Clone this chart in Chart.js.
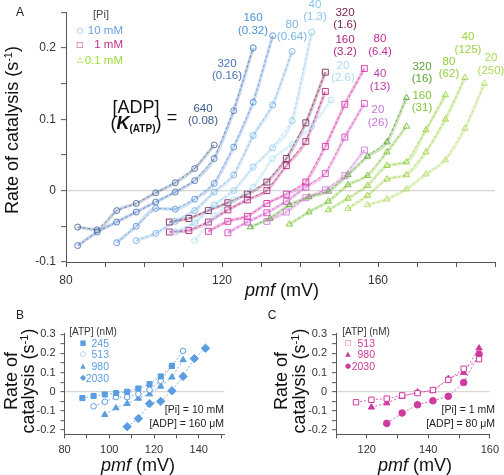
<!DOCTYPE html>
<html><head><meta charset="utf-8">
<script src="https://cdn.jsdelivr.net/npm/chart.js@4.4.1/dist/chart.umd.min.js"></script>
<style>
html,body{margin:0;padding:0;background:#fff;}
body{width:504px;height:475px;position:relative;overflow:hidden;font-family:"Liberation Sans",Arial,sans-serif;}
canvas{position:absolute;}
.t{position:absolute;white-space:nowrap;line-height:1;}
</style></head><body>
<canvas id="cA" width="504" height="300" style="left:0;top:0;width:504px;height:300px"></canvas>
<canvas id="cB" width="250" height="175" style="left:0;top:300px;width:250px;height:175px"></canvas>
<canvas id="cC" width="254" height="175" style="left:250px;top:300px;width:254px;height:175px"></canvas>
<script>
// ---------- Panel A data: [Pi] = 10 mM (circles) ----------
const pmf10_640 = [83,88,93,98,103,108,113,118];
const rate10_640 = [-0.051,-0.055,-0.028,-0.018,-0.003,0.011,0.031,0.064];
const pmf10_320 = [83,88,93,98,103,108,113,118,123,128];
const rate10_320 = [-0.077,-0.058,-0.044,-0.030,-0.016,-0.002,0.014,0.045,0.112,0.200];
const pmf10_160 = [93,98,103,108,113,118,123,128,133];
const rate10_160 = [-0.073,-0.050,-0.025,-0.026,-0.012,0.010,0.061,0.124,0.217];
const pmf10_80 = [98,103,108,113,118,123,128,133,138];
const rate10_80 = [-0.070,-0.060,-0.043,-0.028,-0.002,0.022,0.077,0.120,0.195];
const pmf10_40 = [108,113,118,123,128,133,138,143];
const rate10_40 = [-0.058,-0.045,-0.020,0.000,0.033,0.060,0.098,0.222];
const pmf10_20 = [113,118,123,128,133,138,143,148];
const rate10_20 = [-0.070,-0.036,-0.013,0.005,0.045,0.065,0.090,0.127];
// ---------- [Pi] = 1 mM (squares) ----------
const pmf1_320 = [106.5,111.5,116.5,121.5,126.5,131.5,136.5,141.5,146.5];
const rate1_320 = [-0.044,-0.039,-0.028,-0.017,-0.005,0.012,0.045,0.095,0.166];
const pmf1_160 = [106.5,111.5,116.5,121.5,126.5,131.5,136.5,141.5,146.5];
const rate1_160 = [-0.058,-0.056,-0.044,-0.027,-0.013,0.000,0.035,0.069,0.139];
const pmf1_80 = [116.5,121.5,126.5,131.5,136.5,141.5,146.5,151.5,156.5];
const rate1_80 = [-0.057,-0.043,-0.036,-0.018,-0.005,0.012,0.062,0.121,0.171];
const pmf1_40 = [121.5,126.5,131.5,136.5,141.5,146.5,151.5,156.5];
const rate1_40 = [-0.059,-0.044,-0.031,-0.015,0.005,0.024,0.075,0.122];
const pmf1_20 = [131.5,136.5,141.5,146.5,151.5,156.5];
const rate1_20 = [-0.043,-0.030,-0.010,0.001,0.021,0.057];
// ---------- [Pi] = 0.1 mM (triangles) ----------
const pmf01_320 = [127.3,132.3,137.3,142.3,147.3,152.3,157.3,162.3,167.3];
const rate01_320 = [-0.051,-0.039,-0.020,-0.009,-0.001,0.022,0.048,0.068,0.130];
const pmf01_160 = [137.3,142.3,147.3,152.3,157.3,162.3,167.3];
const rate01_160 = [-0.047,-0.030,-0.015,0.008,0.021,0.054,0.090];
const pmf01_80 = [147.3,152.3,157.3,162.3,167.3,172.3,177.3];
const rate01_80 = [-0.027,-0.011,0.007,0.035,0.040,0.085,0.134];
const pmf01_40 = [152.3,157.3,162.3,167.3,172.3,177.3,182.3];
const rate01_40 = [-0.025,-0.007,0.016,0.022,0.054,0.100,0.158];
const pmf01_20 = [157.3,162.3,167.3,172.3,177.3,182.3,187.3];
const rate01_20 = [-0.020,-0.012,0.002,0.023,0.043,0.087,0.150];

// ---------- Panel B data ([Pi]=10 mM, [ADP]=160 uM) ----------
const pmfB_245 = [88,93,98,103,108,113,118,123,128];
const rateB_245 = [-0.033,-0.022,-0.014,-0.007,0.000,0.017,0.040,0.080,0.135];
const pmfB_513 = [93,98,103,108,113,118,123,128,133];
const rateB_513 = [-0.076,-0.052,-0.028,-0.028,-0.012,0.010,0.057,0.135,0.213];
const pmfB_980 = [98,103,108,113,118,123,128,133];
const rateB_980 = [-0.120,-0.085,-0.062,-0.035,-0.012,0.028,0.076,0.166];
const pmfB_2030 = [108,113,118,123,128,133,138,143];
const rateB_2030 = [-0.182,-0.140,-0.062,-0.050,0.005,0.080,0.173,0.227];

// ---------- Panel C data ([Pi]=1 mM, [ADP]=80 uM) ----------
const pmfC_513 = [116.5,121.5,126.5,131.5,136.5,141.5,146.5,151.5,156.5];
const rateC_513 = [-0.055,-0.042,-0.036,-0.019,-0.007,0.009,0.062,0.120,0.170];
const pmfC_980 = [121.5,126.5,131.5,136.5,141.5,146.5,151.5,156.5];
const rateC_980 = [-0.081,-0.059,-0.024,-0.002,0.005,0.068,0.100,0.227];
const pmfC_2030 = [126.5,131.5,136.5,141.5,146.5,151.5,156.5];
const rateC_2030 = [-0.165,-0.111,-0.068,-0.047,-0.024,0.048,0.196];

// ---------- tick values / labels ----------
const xTicksA = [80,90,100,110,120,130,140,150,160,170,180,190];
const xLabelsA = [80,120,160];
const yTicksA = [-0.1,-0.05,0,0.05,0.1,0.15,0.2,0.25];
const yLabelsA = [-0.1,0,0.1,0.2];
const xTicksB = [80,90,100,110,120,130,140,150];
const xLabelsB = [80,100,120,140];
const xTicksC = [110,120,130,140,150,160];
const xLabelsC = [120,140,160];
const yTicksBC = [-0.2,-0.15,-0.1,-0.05,0,0.05,0.1,0.15,0.2,0.25,0.3];
const yLabelsBC = [-0.2,-0.1,0,0.1,0.2,0.3];

// ---------- styling (not data) ----------
const FONT = '"Liberation Sans", Arial, sans-serif';
Chart.defaults.font.family = FONT;
const AX = '#555';

function pts(xs, ys){ return xs.map((x,i)=>({x:x, y:ys[i]})); }
function hexA(hex,a){const n=parseInt(hex.slice(1),16);return `rgba(${n>>16&255},${n>>8&255},${n&255},${a})`;}

const seriesA = [
  [pmf10_640, rate10_640, '#506c9c', 'circle', 3],
  [pmf10_320, rate10_320, '#4a78bc', 'circle', 3],
  [pmf10_160, rate10_160, '#5b93d6', 'circle', 3],
  [pmf10_80,  rate10_80,  '#7cb4e6', 'circle', 3],
  [pmf10_40,  rate10_40,  '#95cdef', 'circle', 3],
  [pmf10_20,  rate10_20,  '#b2e0f3', 'circle', 3],
  [pmf1_320, rate1_320, '#7d2a5c', 'rect', 4.2],
  [pmf1_160, rate1_160, '#b0267e', 'rect', 4.2],
  [pmf1_80,  rate1_80,  '#d530a6', 'rect', 4.2],
  [pmf1_40,  rate1_40,  '#d24ec2', 'rect', 4.2],
  [pmf1_20,  rate1_20,  '#d37ad8', 'rect', 4.2],
  [pmf01_320, rate01_320, '#5aa632', 'triangle', 3.6],
  [pmf01_160, rate01_160, '#7cc236', 'triangle', 3.6],
  [pmf01_80,  rate01_80,  '#92cf3a', 'triangle', 3.6],
  [pmf01_40,  rate01_40,  '#a2d44a', 'triangle', 3.6],
  [pmf01_20,  rate01_20,  '#b5de6a', 'triangle', 3.6]
];

const dsA = [];
seriesA.forEach(s=>{
  dsA.push({data:pts(s[0],s[1]), showLine:true, borderColor:hexA(s[2],0.3), borderWidth:3.2,
    pointRadius:0, tension:0.45, cubicInterpolationMode:'monotone', order:2});
  dsA.push({data:pts(s[0],s[1]), showLine:true, borderColor:s[2], borderWidth:0.75, borderDash:[3,2],
    pointStyle:s[3], pointRadius:s[4], pointBorderColor:s[2], pointBackgroundColor:'rgba(255,255,255,0)',
    pointBorderWidth:0.9, order:1});
});

function fmtY(v){ if (Math.abs(v)<1e-9) return '0'; return v.toFixed(1); }
function inList(v, list){ return list.some(l=>Math.abs(l-v)<1e-9); }

function makeScales(o){
  return {
    x:{type:'linear', min:o.xmin, max:o.xmax,
      afterBuildTicks:s=>{ s.ticks = o.xt.map(v=>({value:v})); },
      afterFit:s=>{ s.height = o.xh; },
      ticks:{autoSkip:false, maxRotation:0, padding:o.xpad, color:'#333', font:{size:o.fs, family:FONT},
        callback:v=> inList(v,o.xl) ? String(v) : ''},
      grid:{drawOnChartArea:false, tickLength:o.tl, tickColor:AX, tickWidth:1},
      border:{display:true, color:AX, width:1}},
    y:{type:'linear', min:o.ymin, max:o.ymax,
      afterBuildTicks:s=>{ s.ticks = o.yt.map(v=>({value:v})); },
      afterFit:s=>{ s.width = o.yw; },
      ticks:{autoSkip:false, padding:o.ypad, color:'#333', font:{size:o.fs, family:FONT},
        callback:v=> inList(v,o.yl) ? fmtY(v) : ''},
      grid:{drawOnChartArea:true, color:c=> (c.tick && Math.abs(c.tick.value)<1e-9) ? '#d6d6d6' : 'rgba(0,0,0,0)',
        lineWidth:1.3, tickLength:o.tl, tickColor:AX, tickWidth:1},
      border:{display:true, color:AX, width:1}}
  };
}

const baseOpts = {responsive:false, animation:false, devicePixelRatio:1,
  plugins:{legend:{display:false}, tooltip:{enabled:false}}};

new Chart(document.getElementById('cA'), {
  type:'scatter', data:{datasets:dsA},
  options:Object.assign({}, baseOpts, {
    layout:{padding:{top:5.5, right:9, left:0, bottom:0}},
    scales:makeScales({xmin:80,xmax:190,xt:xTicksA,xl:xLabelsA,ymin:-0.1,ymax:0.25,yt:yTicksA,yl:yLabelsA,
      xh:38, yw:66, fs:12, tl:5, xpad:6, ypad:5})
  })
});

const colB = '#5a9de0';
const dsB = [
  [pmfB_245, rateB_245, 'rect', 3.6, true],
  [pmfB_513, rateB_513, 'circle', 2.8, false],
  [pmfB_980, rateB_980, 'triangle', 3.6, true],
  [pmfB_2030, rateB_2030, 'rectRot', 4.2, true]
].map(s=>({data:pts(s[0],s[1]), showLine:true, borderColor:colB, borderWidth:0.8, borderDash:[2,2],
  pointStyle:s[2], pointRadius:s[3], pointBorderColor:colB, pointBorderWidth:1,
  pointBackgroundColor: s[4] ? colB : '#fff'}));

new Chart(document.getElementById('cB'), {
  type:'scatter', data:{datasets:dsB},
  options:Object.assign({}, baseOpts, {
    layout:{padding:{top:33.3, right:25.5, left:0, bottom:0}},
    scales:makeScales({xmin:80,xmax:151.5,xt:xTicksB,xl:xLabelsB,ymin:-0.222,ymax:0.305,yt:yTicksBC,yl:yLabelsBC,
      xh:40.7, yw:64.5, fs:11, tl:4, xpad:5, ypad:5})
  })
});

const colC = '#cf3a9f';
const dsC = [
  [pmfC_513, rateC_513, 'rect', 3.8, false],
  [pmfC_980, rateC_980, 'triangle', 3.6, true],
  [pmfC_2030, rateC_2030, 'circle', 3.3, true]
].map(s=>({data:pts(s[0],s[1]), showLine:true, borderColor:colC, borderWidth:0.8, borderDash:[2,2],
  pointStyle:s[2], pointRadius:s[3], pointBorderColor:colC, pointBorderWidth:1,
  pointBackgroundColor: s[4] ? colC : '#fff'}));

new Chart(document.getElementById('cC'), {
  type:'scatter', data:{datasets:dsC},
  options:Object.assign({}, baseOpts, {
    layout:{padding:{top:33.3, right:9.5, left:0, bottom:0}},
    scales:makeScales({xmin:110,xmax:160,xt:xTicksC,xl:xLabelsC,ymin:-0.222,ymax:0.305,yt:yTicksBC,yl:yLabelsBC,
      xh:40.7, yw:86, fs:11, tl:4, xpad:5, ypad:5})
  })
});

// ---------- text overlays ----------
function txt(html, x, y, o){
  o = o || {};
  const d = document.createElement('div');
  d.className = 't';
  d.innerHTML = html;
  d.style.left = x + 'px'; d.style.top = y + 'px';
  d.style.fontSize = (o.size||12) + 'px';
  d.style.color = o.color || '#222';
  if (o.family) d.style.fontFamily = o.family;
  const al = o.align || 'c';
  let tr = al==='c' ? 'translate(-50%,-50%)' : al==='r' ? 'translate(-100%,-50%)' : 'translate(0,-50%)';
  if (o.rot) tr += ' rotate(-90deg)';
  d.style.transform = tr;
  document.body.appendChild(d);
}
const SYM = '"DejaVu Sans", sans-serif';

// Panel A
txt('A', 20, 12, {size:12});
txt('[Pi]', 101, 14, {size:11, color:'#444'});
txt('○', 80, 31, {size:8, color:'#6aa0e0', family:SYM});
txt('10 mM', 123, 31, {size:11.5, color:'#6aa0e0', align:'r'});
txt('□', 80, 45, {size:8, color:'#c0308a', family:SYM});
txt('1 mM', 123, 45, {size:11.5, color:'#c0308a', align:'r'});
txt('△', 80, 60, {size:8, color:'#99dd33', family:SYM});
txt('0.1 mM', 123, 61, {size:11.5, color:'#99dd33', align:'r'});
txt('[ADP]', 136, 107, {size:18, color:'#111'});
txt('(<b><i>K</i></b><sub style="font-size:10px;font-weight:bold;vertical-align:-3px">(ATP)</sub>)', 136, 124, {size:18, color:'#111'});
txt('=', 172, 117, {size:18, color:'#111'});

const seriesLabels = [
  ['640','(0.08)',203,109,121,'#3d5a8c'],
  ['320','(0.16)',227,64,76,'#4a72b4'],
  ['160','(0.32)',253,18,31,'#4a90d9'],
  ['80','(0.64)',292,25,37,'#7ab4e4'],
  ['40','(1.3)',315,5,17,'#88c8ee'],
  ['20','(2.6)',343,66,78,'#a8ddf2'],
  ['320','(1.6)',345,13,25,'#7a2858'],
  ['160','(3.2)',345,40,52,'#b02080'],
  ['80','(6.4)',380,39,52,'#c82896'],
  ['40','(13)',380,74,87,'#c040b0'],
  ['20','(26)',378,110,123,'#c878d8'],
  ['320','(16)',422,67,79,'#5aa632'],
  ['160','(31)',422,96,108,'#80c43a'],
  ['80','(62)',449,62,74,'#8fcf3a'],
  ['40','(125)',468,37,50,'#9ad440'],
  ['20','(250)',491,58,71,'#a8da58']
];
seriesLabels.forEach(l=>{
  txt(l[0], l[2], l[3], {size:11.5, color:l[5]});
  txt(l[1], l[2], l[4], {size:11.5, color:l[5]});
});
txt('Rate of catalysis (s<sup style="font-size:11px;vertical-align:6px">-1</sup>)', 12, 130, {size:18, color:'#111', rot:true});
txt('<i>pmf</i> (mV)', 282, 290, {size:18, color:'#111'});

// Panel B
txt('B', 20, 315, {size:12});
txt('[ATP] (nM)', 93, 332, {size:10, color:'#333'});
txt('■', 83, 343, {size:7, color:colB, family:SYM});
txt('245', 109, 343, {size:10.5, color:colB, align:'r'});
txt('○', 83, 354, {size:7, color:colB, family:SYM});
txt('513', 109, 354, {size:10.5, color:colB, align:'r'});
txt('▲', 83, 366, {size:7, color:colB, family:SYM});
txt('980', 109, 366, {size:10.5, color:colB, align:'r'});
txt('◆', 83, 378, {size:8, color:colB, family:SYM});
txt('2030', 109, 378, {size:10.5, color:colB, align:'r'});
txt('[Pi] = 10 mM', 224, 409, {size:10.5, color:'#222', align:'r'});
txt('[ADP] = 160 μM', 224, 423, {size:10.5, color:'#222', align:'r'});
txt('Rate of', 11, 381, {size:18, color:'#111', rot:true});
txt('catalysis (s<sup style="font-size:11px;vertical-align:6px">-1</sup>)', 28, 381, {size:18, color:'#111', rot:true});
txt('<i>pmf</i> (mV)', 138, 465, {size:18, color:'#111'});

// Panel C
txt('C', 272, 315, {size:12});
txt('[ATP] (nM)', 366, 332, {size:10, color:'#333'});
txt('□', 348, 343, {size:7, color:colC, family:SYM});
txt('513', 375, 343, {size:10.5, color:colC, align:'r'});
txt('▲', 348, 354, {size:7, color:colC, family:SYM});
txt('980', 375, 354, {size:10.5, color:colC, align:'r'});
txt('●', 348, 366, {size:7, color:colC, family:SYM});
txt('2030', 375, 366, {size:10.5, color:colC, align:'r'});
txt('[Pi] = 1 mM', 495, 409, {size:10.5, color:'#222', align:'r'});
txt('[ADP] = 80 μM', 495, 423, {size:10.5, color:'#222', align:'r'});
txt('Rate of', 281, 381, {size:18, color:'#111', rot:true});
txt('catalysis (s<sup style="font-size:11px;vertical-align:6px">-1</sup>)', 299, 381, {size:18, color:'#111', rot:true});
txt('<i>pmf</i> (mV)', 415, 465, {size:18, color:'#111'});
</script>
</body></html>
